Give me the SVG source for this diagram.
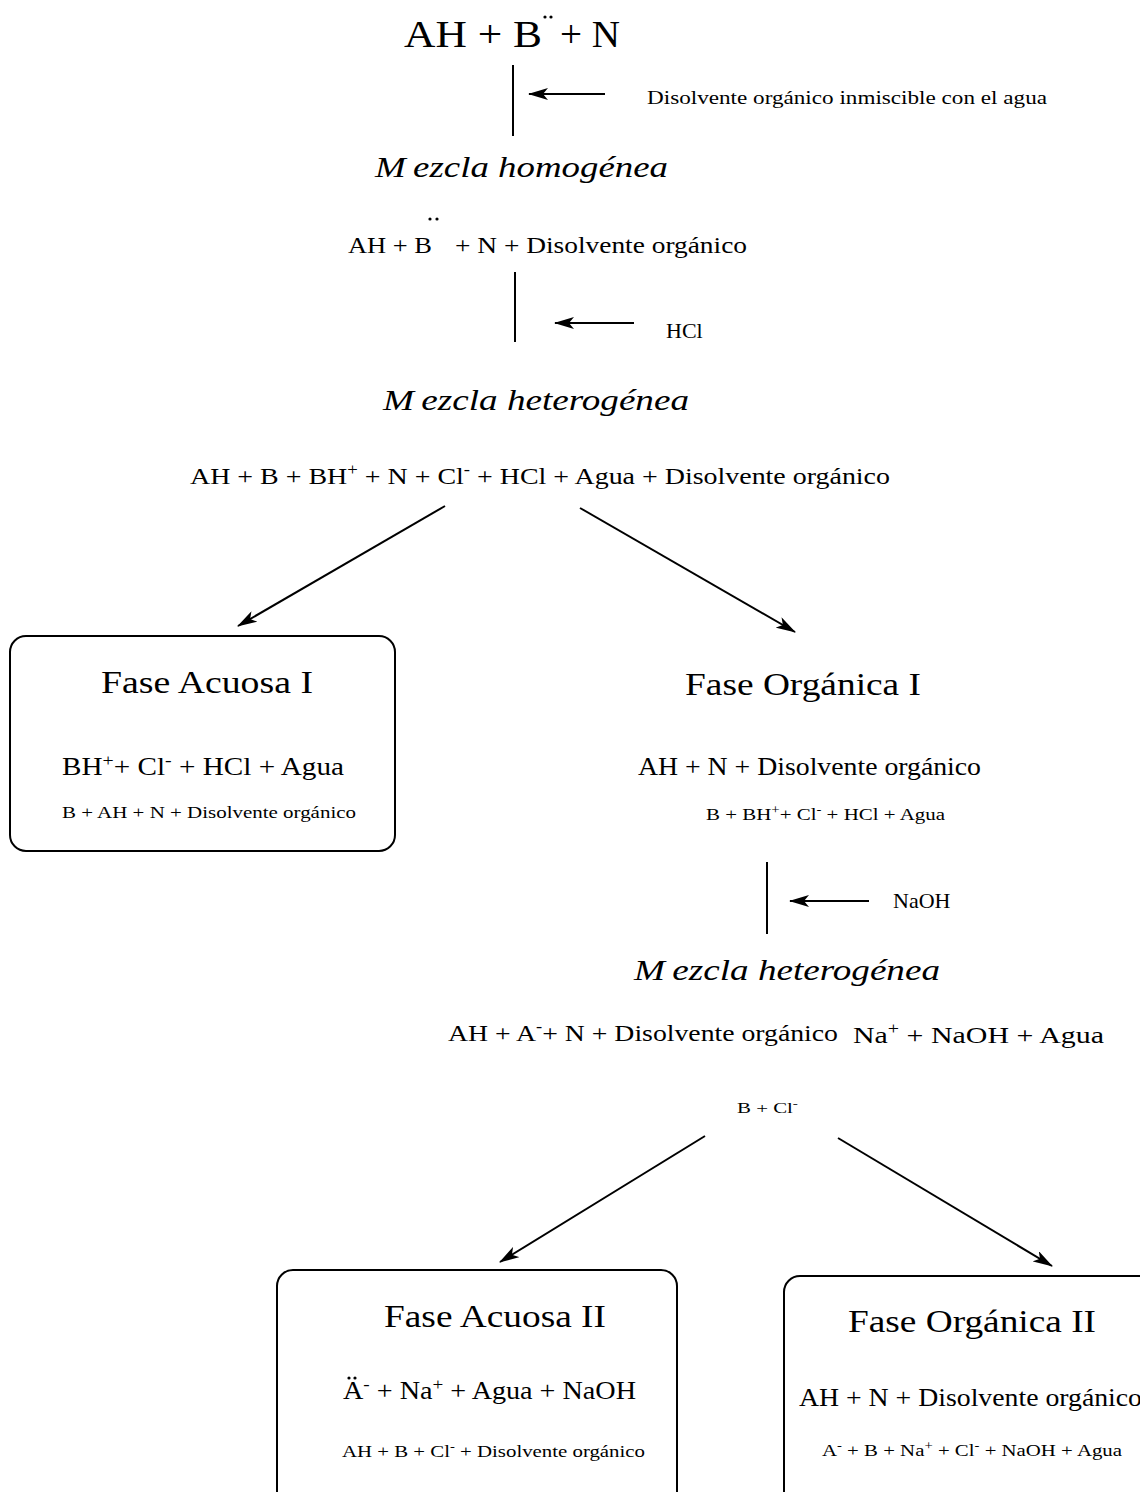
<svg xmlns="http://www.w3.org/2000/svg" width="1140" height="1492" viewBox="0 0 1140 1492" font-family="'Liberation Serif', 'Times New Roman', Tinos, 'Nimbus Roman', 'Noto Serif', FreeSerif, serif">
<style>
.it{font-style:italic;font-size:30px}
.t{font-size:32px}
.m{font-size:25px}
.s{font-size:17px}
.box{fill:#fff;stroke:#000;stroke-width:2}
.ln{stroke:#000;stroke-width:2;fill:none}
.dot{fill:#000}
</style>
<defs>
<marker id="ah" viewBox="0 0 20 12" refX="19" refY="6" markerWidth="20" markerHeight="12" markerUnits="userSpaceOnUse" orient="auto">
<path d="M0,0 L20,6 L0,12 L5,6 Z" fill="#000"/>
</marker>
</defs>
<rect width="1140" height="1492" fill="#fff"/>
<g id="connectors">
<line class="ln" x1="513" y1="65" x2="513" y2="136"/>
<line class="ln" x1="605" y1="94" x2="529" y2="94" marker-end="url(#ah)"/>
<line class="ln" x1="515" y1="272" x2="515" y2="342"/>
<line class="ln" x1="634" y1="323" x2="555" y2="323" marker-end="url(#ah)"/>
<line class="ln" x1="445" y1="506" x2="238" y2="626" marker-end="url(#ah)"/>
<line class="ln" x1="580" y1="508" x2="795" y2="632" marker-end="url(#ah)"/>
<line class="ln" x1="767" y1="862" x2="767" y2="934"/>
<line class="ln" x1="869" y1="901" x2="790" y2="901" marker-end="url(#ah)"/>
<line class="ln" x1="705" y1="1136" x2="500" y2="1262" marker-end="url(#ah)"/>
<line class="ln" x1="838" y1="1138" x2="1052" y2="1266" marker-end="url(#ah)"/>
</g>
<g id="start">
<text x="404" y="47" font-size="38" textLength="138" lengthAdjust="spacingAndGlyphs">AH + B</text>
<text x="560" y="47" font-size="38" textLength="60" lengthAdjust="spacingAndGlyphs">+ N</text>
<circle class="dot" cx="545" cy="17" r="1.6"/><circle class="dot" cx="551" cy="17" r="1.6"/>
</g>
<g id="solvent1">
<text x="647" y="104" font-size="18" textLength="400" lengthAdjust="spacingAndGlyphs">Disolvente orgánico inmiscible con el agua</text>
</g>
<g id="mezcla1">
<text class="it" x="375" y="177" textLength="293" lengthAdjust="spacingAndGlyphs">M<tspan dx="6">ezcla homogénea</tspan></text>
<text x="348" y="253" font-size="24" textLength="84" lengthAdjust="spacingAndGlyphs">AH + B</text>
<text x="455" y="253" font-size="24" textLength="292" lengthAdjust="spacingAndGlyphs">+ N + Disolvente orgánico</text>
<circle class="dot" cx="430" cy="219" r="1.6"/><circle class="dot" cx="437" cy="219" r="1.6"/>
</g>
<g id="hcl">
<text x="666" y="338" font-size="22">HCl</text>
</g>
<g id="mezcla2">
<text class="it" x="383" y="410" textLength="306" lengthAdjust="spacingAndGlyphs">M<tspan dx="6">ezcla heterogénea</tspan></text>
<text x="190" y="484" font-size="24" textLength="700" lengthAdjust="spacingAndGlyphs">AH + B + BH<tspan font-size="16" dy="-9">+</tspan><tspan dy="9"> + N + Cl</tspan><tspan font-size="16" dy="-9">-</tspan><tspan dy="9"> + HCl + Agua + Disolvente orgánico</tspan></text>
</g>
<g id="faseAcuosa1">
<rect class="box" x="10" y="636" width="385" height="215" rx="16"/>
<text class="t" x="101" y="693" textLength="212" lengthAdjust="spacingAndGlyphs">Fase Acuosa I</text>
<text class="m" x="62" y="775" textLength="282" lengthAdjust="spacingAndGlyphs">BH<tspan font-size="17" dy="-9">+</tspan><tspan dy="9">+ Cl</tspan><tspan font-size="17" dy="-9">-</tspan><tspan dy="9"> + HCl + Agua</tspan></text>
<text class="s" x="62" y="818" textLength="294" lengthAdjust="spacingAndGlyphs">B + AH + N + Disolvente orgánico</text>
</g>
<g id="faseOrganica1">
<text class="t" x="685" y="695" textLength="236" lengthAdjust="spacingAndGlyphs">Fase Orgánica I</text>
<text class="m" x="638" y="775" textLength="343" lengthAdjust="spacingAndGlyphs">AH + N + Disolvente orgánico</text>
<text class="s" x="706" y="820" textLength="239" lengthAdjust="spacingAndGlyphs">B + BH<tspan font-size="12" dy="-6">+</tspan><tspan dy="6">+ Cl</tspan><tspan font-size="12" dy="-6">-</tspan><tspan dy="6"> + HCl + Agua</tspan></text>
</g>
<g id="naoh">
<text x="893" y="908" font-size="22">NaOH</text>
</g>
<g id="mezcla3">
<text class="it" x="634" y="980" textLength="306" lengthAdjust="spacingAndGlyphs">M<tspan dx="6">ezcla heterogénea</tspan></text>
<text x="448" y="1041" font-size="24" textLength="390" lengthAdjust="spacingAndGlyphs">AH + A<tspan font-size="16" dy="-9">-</tspan><tspan dy="9">+ N + Disolvente orgánico</tspan></text>
<text x="853" y="1043" font-size="24" textLength="251" lengthAdjust="spacingAndGlyphs">Na<tspan font-size="16" dy="-9">+</tspan><tspan dy="9"> + NaOH + Agua</tspan></text>
<text x="737" y="1113" font-size="15" textLength="61" lengthAdjust="spacingAndGlyphs">B + Cl<tspan font-size="11" dy="-6">-</tspan></text>
</g>
<g id="faseAcuosa2">
<rect class="box" x="277" y="1270" width="400" height="240" rx="16"/>
<text class="t" x="384" y="1327" textLength="222" lengthAdjust="spacingAndGlyphs">Fase Acuosa II</text>
<text class="m" x="343" y="1399" textLength="293" lengthAdjust="spacingAndGlyphs">A<tspan font-size="17" dy="-9">-</tspan><tspan dy="9"> + Na</tspan><tspan font-size="17" dy="-9">+</tspan><tspan dy="9"> + Agua + NaOH</tspan></text>
<circle class="dot" cx="349" cy="1378" r="1.6"/><circle class="dot" cx="355" cy="1378" r="1.6"/>
<text class="s" x="342" y="1457" textLength="303" lengthAdjust="spacingAndGlyphs">AH + B + Cl<tspan font-size="12" dy="-6">-</tspan><tspan dy="6"> + Disolvente orgánico</tspan></text>
</g>
<g id="faseOrganica2">
<rect class="box" x="784" y="1276" width="400" height="240" rx="16"/>
<text class="t" x="848" y="1332" textLength="248" lengthAdjust="spacingAndGlyphs">Fase Orgánica II</text>
<text class="m" x="799" y="1406" textLength="343" lengthAdjust="spacingAndGlyphs">AH + N + Disolvente orgánico</text>
<text class="s" x="822" y="1456" textLength="300" lengthAdjust="spacingAndGlyphs">A<tspan font-size="12" dy="-6">-</tspan><tspan dy="6"> + B + Na</tspan><tspan font-size="12" dy="-6">+</tspan><tspan dy="6"> + Cl</tspan><tspan font-size="12" dy="-6">-</tspan><tspan dy="6"> + NaOH + Agua</tspan></text>
</g>
</svg>
